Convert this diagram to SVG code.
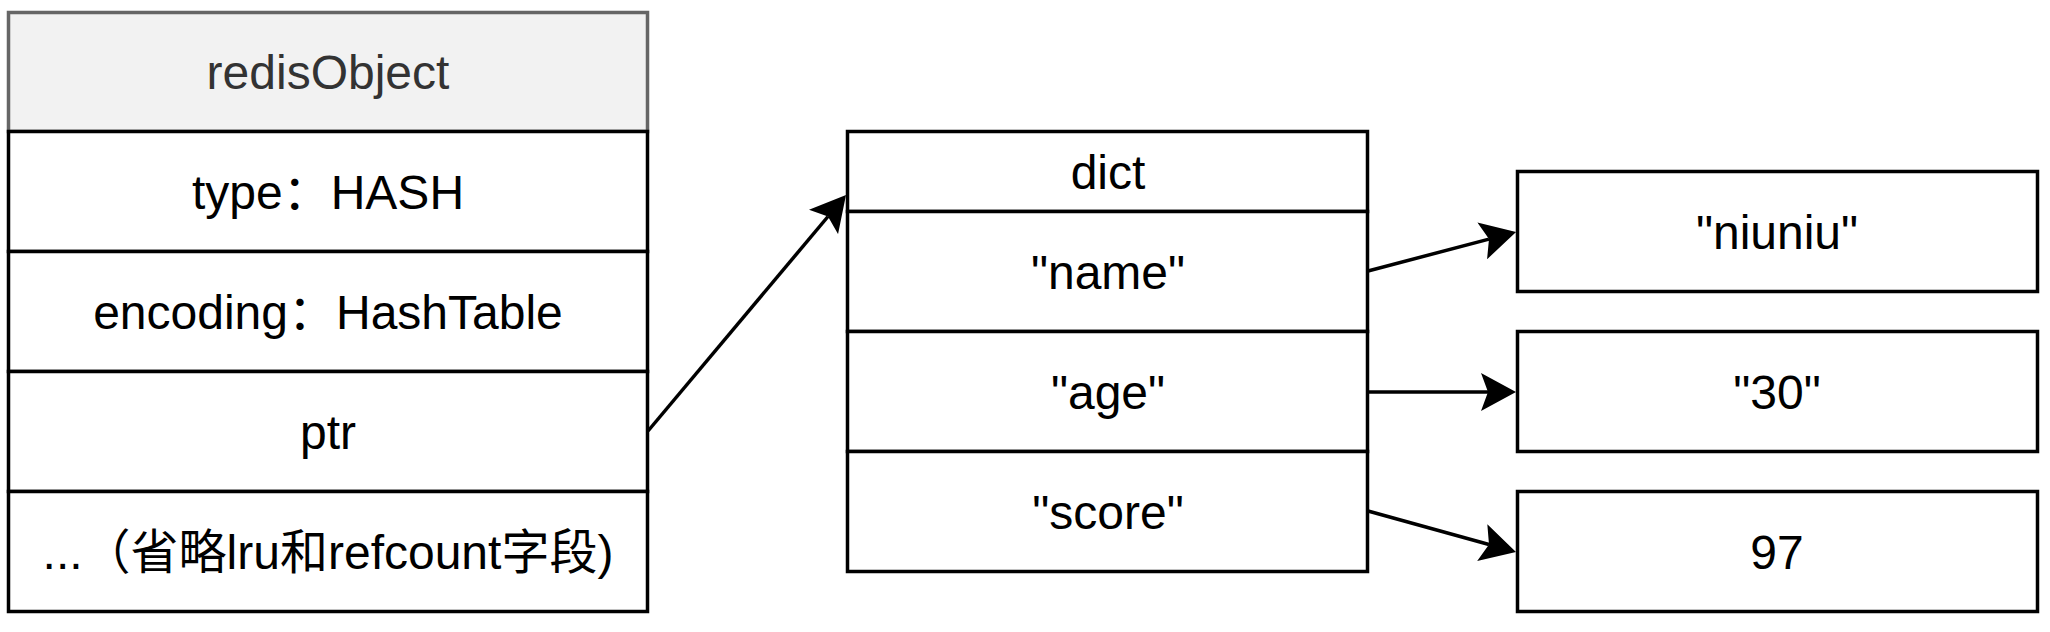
<svg xmlns="http://www.w3.org/2000/svg" width="2050" height="632" viewBox="0 0 2050 632">
<style>
  .cell { fill: #ffffff; stroke: #000000; stroke-width: 3.5; }
  .head { fill: #f2f2f2; stroke: #666666; stroke-width: 3.5; }
  .t { font-family: "Liberation Sans", Arial, "Noto Sans CJK SC", sans-serif; font-size: 48px; fill: #000000; text-anchor: middle; }
  .th { fill: #333333; }
  .edge { fill: none; stroke: #000000; stroke-width: 3.5; }
</style>
<defs>
  <marker id="arrow" markerUnits="userSpaceOnUse" viewBox="0 -19 35 38" markerWidth="35" markerHeight="38" refX="7" refY="0" orient="auto">
    <path d="M0,-19 L35,0 L0,19 L7,0 Z" fill="#000000"/>
  </marker>
</defs>
<rect width="2050" height="632" fill="#ffffff"/>
<g id="redisObject">
  <rect class="head" x="8.5" y="12.5" width="639" height="119"/>
  <text class="t th" x="328" y="89">redisObject</text>
  <rect class="cell" x="8.5" y="131.5" width="639" height="120"/>
  <text class="t" x="328" y="208.5">type：HASH</text>
  <rect class="cell" x="8.5" y="251.5" width="639" height="120"/>
  <text class="t" x="328" y="328.5">encoding：HashTable</text>
  <rect class="cell" x="8.5" y="371.5" width="639" height="120"/>
  <text class="t" x="328" y="448.5">ptr</text>
  <rect class="cell" x="8.5" y="491.5" width="639" height="120"/>
  <text class="t" x="328" y="568.5">...（省略lru和refcount字段)</text>
</g>
<g id="dict">
  <rect class="cell" x="847.5" y="131.5" width="520" height="80"/>
  <text class="t" x="1108" y="188.5">dict</text>
  <rect class="cell" x="847.5" y="211.5" width="520" height="120"/>
  <text class="t" x="1108" y="288.5">"name"</text>
  <rect class="cell" x="847.5" y="331.5" width="520" height="120"/>
  <text class="t" x="1108" y="408.5">"age"</text>
  <rect class="cell" x="847.5" y="451.5" width="520" height="120"/>
  <text class="t" x="1108" y="528.5">"score"</text>
</g>
<g id="val-niuniu">
  <rect class="cell" x="1517.5" y="171.5" width="520" height="120"/>
  <text class="t" x="1777" y="248.5">"niuniu"</text>
</g>
<g id="val-30">
  <rect class="cell" x="1517.5" y="331.5" width="520" height="120"/>
  <text class="t" x="1777" y="408.5">"30"</text>
</g>
<g id="val-97">
  <rect class="cell" x="1517.5" y="491.5" width="520" height="120"/>
  <text class="t" x="1777" y="568.5">97</text>
</g>
<g id="connectors">
  <path class="edge" d="M648,431 L828,216.5" marker-end="url(#arrow)"/>
  <path class="edge" d="M1368,271 L1489,239.1" marker-end="url(#arrow)"/>
  <path class="edge" d="M1368,392 L1488,392" marker-end="url(#arrow)"/>
  <path class="edge" d="M1368,511 L1489,544.5" marker-end="url(#arrow)"/>
</g>
</svg>
